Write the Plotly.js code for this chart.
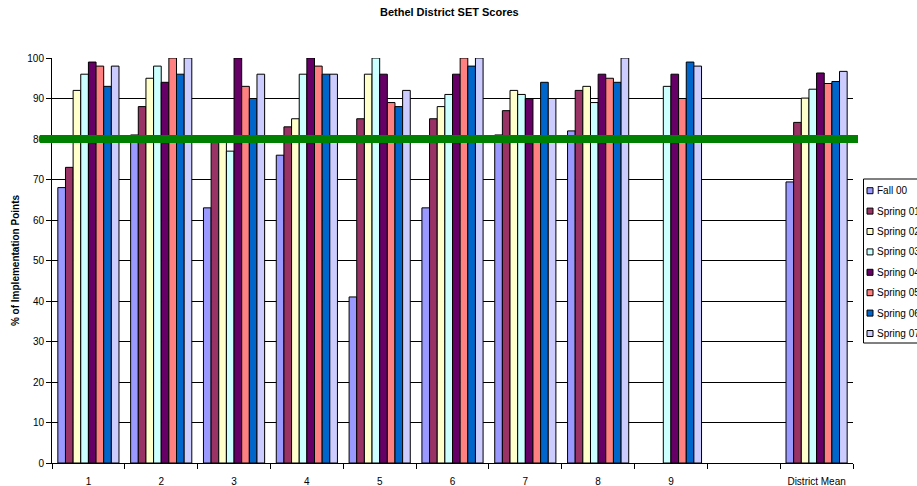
<!DOCTYPE html>
<html>
<head>
<meta charset="utf-8">
<script src="https://cdn.plot.ly/plotly-3.0.1.min.js"></script>
<style>html,body{margin:0;padding:0;background:#fff;overflow:hidden;}#chart{width:917px;height:486px;}</style>
</head>
<body>
<div id="chart"></div>
<script>
const categories = ["1","2","3","4","5","6","7","8","9"," ","District Mean"];
const seriesNames = ["Fall 00","Spring 01","Spring 02","Spring 03","Spring 04","Spring 05","Spring 06","Spring 07"];
const fall00   = [68, 81, 63, 76, 41, 63, 81, 82, null, null, 69.4];
const spring01 = [73, 88, 80, 83, 85, 85, 87, 92, null, null, 84.1];
const spring02 = [92, 95, 80, 85, 96, 88, 92, 93, null, null, 90.1];
const spring03 = [96, 98, 77, 96, 100, 91, 91, 89, 93, null, 92.3];
const spring04 = [99, 94, 100, 100, 96, 96, 90, 96, 96, null, 96.3];
const spring05 = [98, 100, 93, 98, 89, 100, 80, 95, 90, null, 93.7];
const spring06 = [93, 96, 90, 96, 88, 98, 94, 94, 99, null, 94.2];
const spring07 = [98, 100, 96, 96, 92, 100, 90, 100, 98, null, 96.7];
const targetLine = 80;
const yTicks = [0,10,20,30,40,50,60,70,80,90,100];

const seriesValues = [fall00, spring01, spring02, spring03, spring04, spring05, spring06, spring07];
const colors = ["#9999FF","#993366","#FFFFCC","#CCFFFF","#660066","#FF8080","#0066CC","#CCCCFF"];
const font = "Liberation Sans, Arial, sans-serif";

// plot area geometry (pixels) used to place the legend box
const W = 917, H = 486;
const M = {l: 52, r: 64, t: 58, b: 23};
const pw = W - M.l - M.r, ph = H - M.t - M.b;
const px = v => (v - M.l) / pw;
const py = v => (H - M.b - v) / ph;

const data = seriesNames.map((name, i) => ({
  type: "bar",
  name: name,
  x: categories,
  y: seriesValues[i],
  showlegend: false,
  marker: {color: colors[i], line: {color: "#000000", width: 1}},
  hoverinfo: "x+y+name"
}));

const shapes = [];
const annotations = [];
// legend frame
shapes.push({type: "rect", xref: "paper", yref: "paper", x0: px(863.5), x1: px(960), y0: py(343), y1: py(179),
  line: {color: "#000", width: 1}, fillcolor: "#fff", layer: "above"});
seriesNames.forEach((name, i) => {
  const cy = 190.7 + 20.4 * i;
  shapes.push({type: "rect", xref: "paper", yref: "paper", x0: px(867), x1: px(873), y0: py(cy + 3), y1: py(cy - 3),
    line: {color: "#000", width: 1}, fillcolor: colors[i], layer: "above"});
  annotations.push({xref: "paper", yref: "paper", x: px(875), y: py(cy), xanchor: "left", yanchor: "middle",
    text: name, showarrow: false, font: {family: font, size: 10, color: "#000"}});
});
// target line
shapes.push({type: "line", xref: "paper", yref: "y", x0: px(40), x1: px(858), y0: targetLine, y1: targetLine,
  line: {color: "#008000", width: 8}, layer: "above"});

const layout = {
  width: W, height: H,
  margin: {l: M.l, r: M.r, t: M.t, b: M.b, pad: 0, autoexpand: false},
  paper_bgcolor: "#ffffff", plot_bgcolor: "#ffffff",
  font: {family: font, size: 10, color: "#000000"},
  showlegend: false,
  title: {text: "<b>Bethel District SET Scores</b>", font: {family: font, size: 11, color: "#000"}, x: 0.49, xanchor: "center", y: 0.982, yanchor: "top"},
  barmode: "group", bargap: 0.16, bargroupgap: 0,
  xaxis: {type: "category", categoryorder: "array", categoryarray: categories,
    showline: true, linecolor: "#000", linewidth: 1, ticks: "outside", tickson: "boundaries", ticklen: 5, tickcolor: "#000",
    showgrid: false, tickfont: {family: font, size: 10}, ticklabelstandoff: 9, automargin: false},
  yaxis: {range: [0, 100], tickvals: yTicks, ticktext: yTicks.map(String),
    showline: true, linecolor: "#000", linewidth: 1, ticks: "outside", ticklen: 5, tickcolor: "#000",
    showgrid: true, gridcolor: "#000", gridwidth: 1, zeroline: false, automargin: false,
    tickfont: {family: font, size: 10},
    title: {text: "<b>% of Implementation Points</b>", font: {family: font, size: 10}, standoff: 5}},
  shapes: shapes,
  annotations: annotations
};

Plotly.newPlot("chart", data, layout, {displayModeBar: false, staticPlot: true});
</script>
</body>
</html>
